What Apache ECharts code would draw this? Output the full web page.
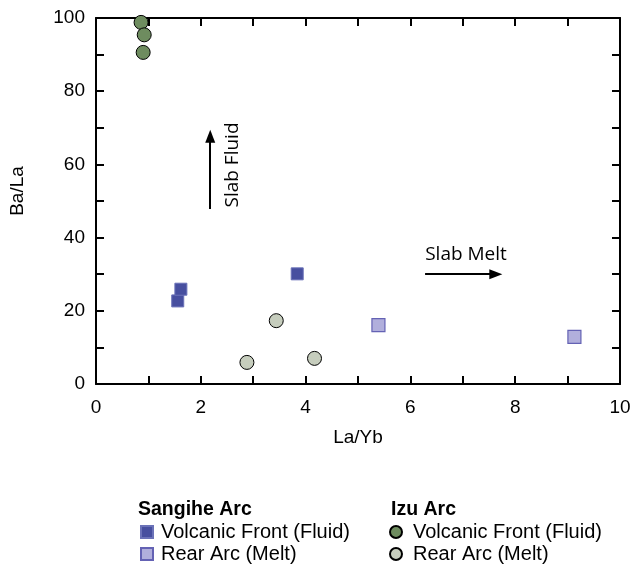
<!DOCTYPE html>
<html>
<head>
<meta charset="utf-8">
<script src="https://cdn.jsdelivr.net/npm/echarts@6/dist/echarts.min.js"></script>
<style>
  html, body { margin: 0; padding: 0; background: #fff; }
  #chart { width: 635px; height: 564px; }
</style>
</head>
<body>
<div id="chart"></div>
<script>
// La/Yb vs Ba/La
const sangiheFront = [[1.56, 22.7], [1.62, 25.9], [3.84, 30.1]];
const sangiheRear = [[5.39, 16.1], [9.13, 12.9]];
const izuFront = [[0.86, 98.8], [0.92, 95.4], [0.90, 90.6]];
const izuRear = [[2.88, 5.9], [3.44, 17.3], [4.17, 7.0]];

const legendNames = {
  sf: 'Volcanic Front (Fluid)',
  sr: 'Rear Arc (Melt)',
  iF: 'Volcanic Front (Fluid)',
  ir: 'Rear Arc (Melt)'
};

const FONT = '"Liberation Sans", Arial, sans-serif';
const chart = echarts.init(document.getElementById('chart'));

function axisStyle(extra) {
  return Object.assign({
    axisLine: { show: true, onZero: false, lineStyle: { color: '#000', width: 2 } },
    axisTick: { show: true, inside: true, length: 8, lineStyle: { color: '#000', width: 2 } },
    splitLine: { show: false }
  }, extra);
}

const legendText = { fontSize: 20, lineHeight: 19, fontFamily: FONT, color: '#000', padding: [0, 0, 0, 3] };

chart.setOption({
  animation: false,
  grid: { left: 96, right: 15, top: 18, bottom: 180 },
  xAxis: [
    axisStyle({
      type: 'value', min: 0, max: 10, interval: 1, position: 'bottom',
      name: 'La/Yb', nameLocation: 'middle', nameGap: 44,
      nameTextStyle: { fontSize: 19, fontFamily: FONT, color: '#000' },
      axisLabel: {
        fontSize: 19, fontFamily: FONT, color: '#000', margin: 14,
        formatter: v => (v % 2 === 0 ? String(v) : '')
      }
    }),
    axisStyle({
      type: 'value', min: 0, max: 10, interval: 1, position: 'top',
      axisLabel: { show: false }
    })
  ],
  yAxis: [
    axisStyle({
      type: 'value', min: 0, max: 100, interval: 10, position: 'left',
      name: 'Ba/La', nameLocation: 'middle', nameGap: 69,
      nameTextStyle: { fontSize: 19, fontFamily: FONT, color: '#000', padding: [0, 0, 0, 20] },
      axisLabel: {
        fontSize: 19, fontFamily: FONT, color: '#000', margin: 11,
        formatter: v => (v % 20 === 0 ? String(v) : '')
      }
    }),
    axisStyle({
      type: 'value', min: 0, max: 100, interval: 10, position: 'right',
      axisLabel: { show: false }
    })
  ],
  legend: [
    {
      data: ['sf', 'sr'], orient: 'vertical', left: 140, top: 522, height: 60,
      itemWidth: 12, itemHeight: 12, itemGap: 2, padding: 0,
      formatter: n => legendNames[n], textStyle: legendText,
      selectedMode: false
    },
    {
      data: ['iF', 'ir'], orient: 'vertical', left: 389, top: 522, height: 60,
      itemWidth: 18, itemHeight: 12, itemGap: 2, padding: 0,
      formatter: n => legendNames[n], textStyle: legendText,
      selectedMode: false
    }
  ],
  series: [
    {
      name: 'sf', type: 'scatter', data: sangiheFront, symbol: 'rect', symbolSize: 12,
      itemStyle: { color: '#474f9f', borderColor: '#6b72b8', borderWidth: 1, opacity: 1 },
      markLine: {
        silent: true, symbol: ['none', 'triangle'], symbolSize: [10, 13],
        lineStyle: { color: '#000', width: 2, type: 'solid' }, label: { show: false },
        data: [
          [{ coord: [2.18, 47.8] }, { coord: [2.18, 67.7] }],
          [{ coord: [6.28, 30.0] }, { coord: [7.63, 30.0] }]
        ]
      }
    },
    {
      name: 'sr', type: 'scatter', data: sangiheRear, symbol: 'rect', symbolSize: 13,
      itemStyle: { color: '#b1afdc', borderColor: '#6462b4', borderWidth: 1.2, opacity: 1 }
    },
    {
      name: 'iF', type: 'scatter', data: izuFront, symbol: 'circle', symbolSize: 14,
      itemStyle: { color: '#6e8c5f', borderColor: '#000', borderWidth: 1, opacity: 1 }
    },
    {
      name: 'ir', type: 'scatter', data: izuRear, symbol: 'circle', symbolSize: 14,
      itemStyle: { color: '#c6cdbd', borderColor: '#000', borderWidth: 1, opacity: 1 }
    }
  ],
  graphic: [
    {
      type: 'text', x: 233, y: 165, rotation: Math.PI / 2,
      style: { text: 'Slab Fluid', font: '19px "Open Sans", sans-serif', fill: '#000', align: 'center', verticalAlign: 'middle' }
    },
    {
      type: 'text', x: 466, y: 255,
      style: { text: 'Slab Melt', font: '19px "Open Sans", sans-serif', fill: '#000', align: 'center', verticalAlign: 'middle' }
    },
    {
      type: 'text', x: 138, y: 510,
      style: { text: 'Sangihe Arc', font: 'bold 19.5px "Liberation Sans", Arial, sans-serif', fill: '#000', verticalAlign: 'middle' }
    },
    {
      type: 'text', x: 391, y: 510,
      style: { text: 'Izu Arc', font: 'bold 19.5px "Liberation Sans", Arial, sans-serif', fill: '#000', verticalAlign: 'middle' }
    }
  ]
});
</script>
</body>
</html>
